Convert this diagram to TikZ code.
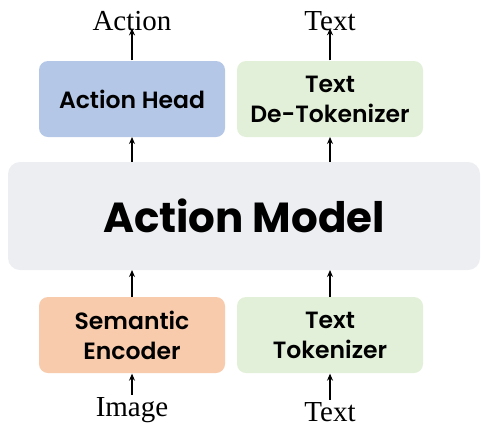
\documentclass[tikz,border=0pt]{standalone}
\usepackage{fontspec}
\setmainfont{Liberation Serif}
\newfontfamily\boxfont{Poppins SemiBold}
\newfontfamily\bigfont{Poppins Bold}
\usetikzlibrary{arrows.meta,positioning}
\definecolor{headblue}{HTML}{B4C7E7}
\definecolor{textgreen}{HTML}{E2F0D9}
\definecolor{encorange}{HTML}{F8CBAD}
\definecolor{modelgray}{HTML}{EDEEF2}

\begin{document}
\begin{tikzpicture}[x=1pt,y=-1pt,-{Stealth[length=7pt,width=6pt]},line width=1.3pt]
    \tikzstyle{modul}=[rectangle,rounded corners=9pt,minimum width=186pt,minimum height=76pt,inner sep=0pt,align=center,font=\boxfont\fontsize{23.5}{30}\selectfont]
    \tikzstyle{head}=[modul, fill=headblue]
    \tikzstyle{tok}=[modul, fill=textgreen]
    \tikzstyle{enc}=[modul, fill=encorange]
    \tikzstyle{model}=[rectangle,rounded corners=12pt,fill=modelgray,minimum width=472pt,minimum height=108pt,inner sep=0pt,font=\bigfont\fontsize{42}{50}\selectfont]
    \tikzstyle{etikett}=[inner sep=0pt,font=\fontsize{29}{32}\selectfont]

    \useasboundingbox (0,0) rectangle (481,429);

    \node[model] (M) at (244,216) {Action Model};
    \node[head] (AH) at (132,99) {Action Head};
    \node[tok] (TD) at (330,99) {Text\\De-Tokenizer};
    \node[enc] (SE) at (132,335) {Semantic\\Encoder};
    \node[tok] (TT) at (330,335) {Text\\Tokenizer};

    \node[etikett] (oA) at (132,21) {Action};
    \node[etikett] (oT) at (330,21) {Text};
    \node[etikett] (iI) at (132,410) {Image};
    \node[etikett] (iT) at (330,412) {Text};

    \foreach \source/\dest in {AH/oA,TD/oT}
        \draw (\source.north) -- ([yshift=3pt]\dest.south);
    \foreach \x in {132,330} {
        \draw (\x,162) -- (\x,137);
        \draw (\x,297) -- (\x,270);
    }
    \draw ([yshift=2pt]iI.north) -- (SE.south);
    \draw ([yshift=2pt]iT.north) -- (TT.south);
\end{tikzpicture}
\end{document}
